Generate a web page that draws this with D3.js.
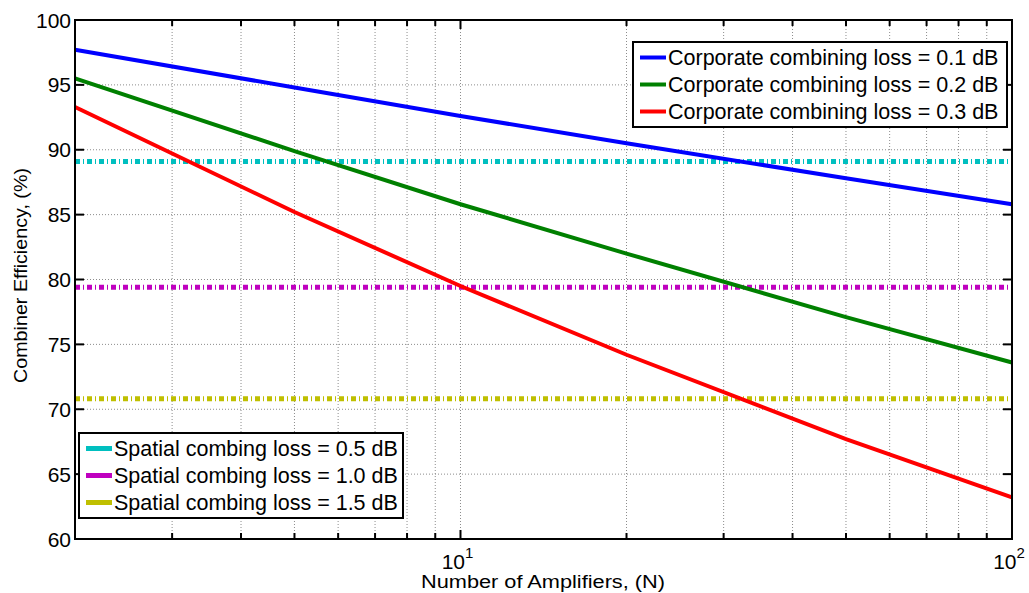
<!DOCTYPE html>
<html>
<head>
<meta charset="utf-8">
<script src="https://cdn.jsdelivr.net/npm/d3@7"></script>
<style>
  body { margin: 0; background: #fff; }
  text { font-family: "Liberation Sans", Arial, sans-serif; fill: #000; }
</style>
</head>
<body>
<div class="chart"></div>
<script>
const SVG_WIDTH = 1029;
const SVG_HEIGHT = 593;
const MARGIN = { top: 20, right: 17, bottom: 54, left: 75 };
const CHART_WIDTH = SVG_WIDTH - MARGIN.left - MARGIN.right;
const CHART_HEIGHT = SVG_HEIGHT - MARGIN.top - MARGIN.bottom;

// data
const amplifiers = [2, 5, 10, 20, 50, 100];
const corporate01 = [97.7, 94.8, 92.6, 90.5, 87.8, 85.8];
const corporate02 = [95.5, 89.9, 85.8, 82.0, 77.1, 73.6];
const corporate03 = [93.3, 85.2, 79.5, 74.2, 67.7, 63.2];
const spatialLevels = [89.1, 79.4, 70.8];

const corporateNames = ['Corporate combining loss = 0.1 dB', 'Corporate combining loss = 0.2 dB', 'Corporate combining loss = 0.3 dB'];
const spatialNames = ['Spatial combing loss = 0.5 dB', 'Spatial combing loss = 1.0 dB', 'Spatial combing loss = 1.5 dB'];
const corporateColors = ['#0000ff', '#008000', '#ff0000'];
const spatialColors = ['#00bfbf', '#bf00bf', '#bfbf00'];
const yTicks = [60, 65, 70, 75, 80, 85, 90, 95, 100];
const xMinor = [2, 3, 4, 5, 6, 7, 8, 9, 10, 20, 30, 40, 50, 60, 70, 80, 90, 100];

const DASHDOT = '5,3,1,3';

const svg = d3.select('.chart')
  .append('svg')
  .attr('width', SVG_WIDTH)
  .attr('height', SVG_HEIGHT);

const xscale = d3.scaleLog()
  .domain([2, 100])
  .range([0, CHART_WIDTH]);

const yscale = d3.scaleLinear()
  .domain([60, 100])
  .range([CHART_HEIGHT, 0]);

const chart = svg.append('g')
  .attr('transform', `translate(${MARGIN.left}, ${MARGIN.top})`);

// grid
chart.append('g')
  .selectAll('line')
  .data(xMinor.filter(d => d > 2 && d < 100))
  .join('line')
  .attr('x1', d => xscale(d)).attr('x2', d => xscale(d))
  .attr('y1', 0).attr('y2', CHART_HEIGHT)
  .attr('stroke', '#8c8c8c').attr('stroke-width', 1)
  .attr('stroke-dasharray', '1,2');

chart.append('g')
  .selectAll('line')
  .data(yTicks.filter(d => d > 60 && d < 100))
  .join('line')
  .attr('x1', 0).attr('x2', CHART_WIDTH)
  .attr('y1', d => yscale(d)).attr('y2', d => yscale(d))
  .attr('stroke', '#8c8c8c').attr('stroke-width', 1)
  .attr('stroke-dasharray', '1,2');

// ticks inside, on all four sides
const tickG = chart.append('g').attr('stroke', '#000').attr('stroke-width', 2);
xMinor.forEach(d => {
  const len = (d === 10 || d === 100) ? 9 : 6;
  tickG.append('line').attr('x1', xscale(d)).attr('x2', xscale(d)).attr('y1', CHART_HEIGHT).attr('y2', CHART_HEIGHT - len);
  tickG.append('line').attr('x1', xscale(d)).attr('x2', xscale(d)).attr('y1', 0).attr('y2', len);
});
yTicks.forEach(d => {
  tickG.append('line').attr('x1', 0).attr('x2', 9).attr('y1', yscale(d)).attr('y2', yscale(d));
  tickG.append('line').attr('x1', CHART_WIDTH).attr('x2', CHART_WIDTH - 9).attr('y1', yscale(d)).attr('y2', yscale(d));
});

// y tick labels
chart.append('g')
  .selectAll('text')
  .data(yTicks)
  .join('text')
  .attr('x', -4)
  .attr('y', d => yscale(d))
  .attr('dy', '0.36em')
  .attr('text-anchor', 'end')
  .style('font-size', '21px')
  .text(d => d);

// x tick labels 10^1, 10^2
[[10, '1'], [100, '2']].forEach(([v, e]) => {
  const t = chart.append('text')
    .attr('x', xscale(v) - 3)
    .attr('y', CHART_HEIGHT + 30)
    .attr('text-anchor', 'middle')
    .style('font-size', '21px');
  t.append('tspan').text('10');
  t.append('tspan').attr('dy', -11).style('font-size', '15px').text(e);
});

// spatial (flat) lines
const xEnds = d3.extent(amplifiers);
spatialLevels.forEach((lvl, i) => {
  chart.append('line')
    .attr('x1', xscale(xEnds[0])).attr('x2', xscale(xEnds[1]))
    .attr('y1', yscale(lvl)).attr('y2', yscale(lvl))
    .attr('stroke', spatialColors[i])
    .attr('stroke-width', 5)
    .attr('stroke-dasharray', DASHDOT);
});

// corporate lines
const generator = d3.line()
  .x(d => xscale(d[0]))
  .y(d => yscale(d[1]));

[corporate01, corporate02, corporate03].forEach((vals, i) => {
  chart.append('path')
    .datum(amplifiers.map((n, j) => [n, vals[j]]))
    .attr('d', generator)
    .attr('fill', 'none')
    .attr('stroke', corporateColors[i])
    .attr('stroke-width', 4);
});

// box
chart.append('rect')
  .attr('width', CHART_WIDTH).attr('height', CHART_HEIGHT)
  .attr('fill', 'none').attr('stroke', '#000').attr('stroke-width', 2);

// legends
function legend(x, y, w, names, colors, dash) {
  const g = svg.append('g').attr('transform', `translate(${x}, ${y})`);
  g.append('rect')
    .attr('width', w).attr('height', 85)
    .attr('fill', '#fff').attr('stroke', '#000').attr('stroke-width', 2);
  names.forEach((n, i) => {
    const cy = 15.5 + i * 27;
    g.append('line')
      .attr('x1', 7).attr('x2', 33)
      .attr('y1', cy).attr('y2', cy)
      .attr('stroke', colors[i]).attr('stroke-width', dash ? 5 : 4);
    g.append('text')
      .attr('x', 35).attr('y', cy).attr('dy', '0.36em')
      .style('font-size', '21.5px')
      .text(n);
  });
}
legend(633, 42, 374, corporateNames, corporateColors, false);
legend(79, 433, 324, spatialNames, spatialColors, true);

// axis labels
svg.append('text')
  .text('Number of Amplifiers, (N)')
  .attr('x', 421)
  .attr('y', 588)
  .attr('textLength', 244)
  .attr('lengthAdjust', 'spacingAndGlyphs')
  .style('font-size', '18px');

svg.append('text')
  .text('Combiner Efficiency, (%)')
  .attr('transform', `translate(27, 383) rotate(-90)`)
  .attr('textLength', 215)
  .attr('lengthAdjust', 'spacingAndGlyphs')
  .style('font-size', '18px');
</script>
</body>
</html>
